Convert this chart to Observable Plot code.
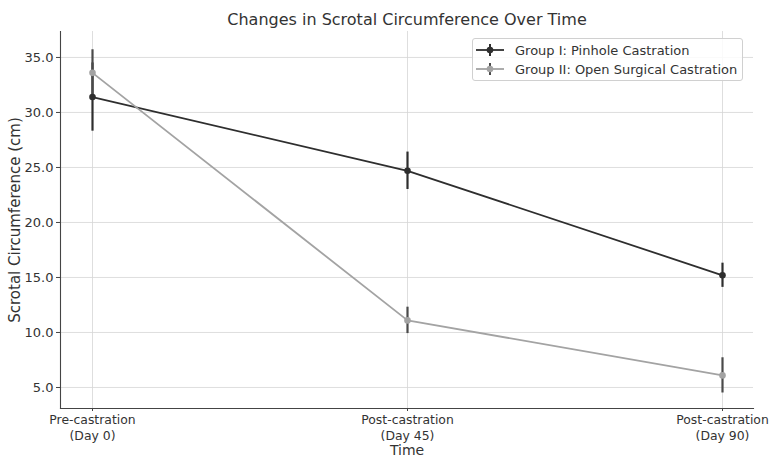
<!DOCTYPE html>
<html>
<head>
<meta charset="utf-8">
<script src="https://cdn.jsdelivr.net/npm/d3@7"></script>
<script src="https://cdn.jsdelivr.net/npm/@observablehq/plot@0.6"></script>
<style>
  html, body { margin: 0; padding: 0; background: #fff; }
  #wrap { position: relative; width: 769px; height: 459px; font-family: "DejaVu Sans", sans-serif; }
  #legend { position: absolute; left: 472px; top: 38px; width: 271px; height: 43px; box-sizing: border-box;
            border: 1px solid #d0d0d0; border-radius: 3px; background: rgba(255,255,255,0.85); font-size: 13px; color: #333; }
  .item { position: absolute; left: 3px; height: 18px; display: flex; align-items: center; white-space: nowrap; }
  .item svg { margin-right: 11px; }
</style>
</head>
<body>
<div id="wrap"></div>
<script>
const timepoints = ["Day 0", "Day 45", "Day 90"];
const tickLabels = ["Pre-castration\n(Day 0)", "Post-castration\n(Day 45)", "Post-castration\n(Day 90)"];
const groups = ["Group I: Pinhole Castration", "Group II: Open Surgical Castration"];
const group1Mean = [31.4, 24.7, 15.2];
const group1SD = [3.1, 1.7, 1.1];
const group2Mean = [33.6, 11.1, 6.1];
const group2SD = [2.1, 1.2, 1.6];
const yTicks = [5, 10, 15, 20, 25, 30, 35];

const lineColors = ["#2e2e2e", "#a3a3a3"];
const errColors = ["#2e2e2e", "#4a4a4a"];

const rows = [];
[[group1Mean, group1SD], [group2Mean, group2SD]].forEach(([m, s], gi) => {
  timepoints.forEach((t, i) => rows.push({group: groups[gi], gi, time: t, mean: m[i], lo: m[i] - s[i], hi: m[i] + s[i]}));
});

const labelOf = new Map(timepoints.map((t, i) => [t, tickLabels[i]]));

const chart = Plot.plot({
  width: 769,
  height: 459,
  marginTop: 31,
  marginBottom: 51,
  marginLeft: 60,
  marginRight: 16,
  style: {fontFamily: "DejaVu Sans, sans-serif", fontSize: "13px", color: "#333", background: "#fff"},
  x: {type: "point", domain: timepoints, padding: 0.1, label: null},
  y: {domain: [3.09, 37.36], label: null},
  marks: [
    Plot.gridX(timepoints, {stroke: "#d6d6d6", strokeOpacity: 1, strokeWidth: 0.8}),
    Plot.gridY(yTicks, {stroke: "#d6d6d6", strokeOpacity: 1, strokeWidth: 0.8}),
    Plot.axisY(yTicks, {tickFormat: d => d.toFixed(1), tickSize: 4, tickPadding: 3, fontSize: 13, stroke: "#444", fill: "#333"}),
    Plot.axisX(timepoints, {tickFormat: d => labelOf.get(d), tickSize: 3, tickPadding: 1, fontSize: 12.4, lineHeight: 1.3, stroke: "#444", fill: "#333"}),
    Plot.frame({anchor: "left", stroke: "#444", strokeWidth: 1.1}),
    Plot.frame({anchor: "bottom", stroke: "#444", strokeWidth: 1.1}),
    Plot.line(rows, {x: "time", y: "mean", z: "group", stroke: d => lineColors[d.gi], strokeWidth: 1.8}),
    Plot.ruleX(rows, {x: "time", y1: "lo", y2: "hi", stroke: d => errColors[d.gi], strokeWidth: 2.2}),
    Plot.dot(rows, {x: "time", y: "mean", r: 3.3, fill: d => lineColors[d.gi], stroke: "none"}),
    Plot.text(["Changes in Scrotal Circumference Over Time"], {frameAnchor: "top", lineAnchor: "middle", dy: -12, fontSize: 16, fill: "#333"}),
    Plot.text(["Scrotal Circumference (cm)"], {frameAnchor: "left", textAnchor: "middle", lineAnchor: "middle", dx: -45, rotate: -90, fontSize: 15, fill: "#333"}),
    Plot.text(["Time"], {frameAnchor: "bottom", lineAnchor: "middle", dy: 42, fontSize: 14, fill: "#333"})
  ]
});

const wrap = document.getElementById("wrap");
wrap.appendChild(chart);

const legend = document.createElement("div");
legend.id = "legend";
groups.forEach((g, gi) => {
  const item = document.createElement("div");
  item.className = "item";
  item.style.top = (gi === 0 ? 2 : 21) + "px";
  item.innerHTML = `<svg width="28" height="14"><line x1="0" y1="7" x2="28" y2="7" stroke="${lineColors[gi]}" stroke-width="1.8"/>`
    + `<line x1="14" y1="1" x2="14" y2="13" stroke="${errColors[gi]}" stroke-width="2"/>`
    + `<circle cx="14" cy="7" r="3.3" fill="${lineColors[gi]}"/></svg><span>${g}</span>`;
  legend.appendChild(item);
});
wrap.appendChild(legend);
</script>
</body>
</html>
